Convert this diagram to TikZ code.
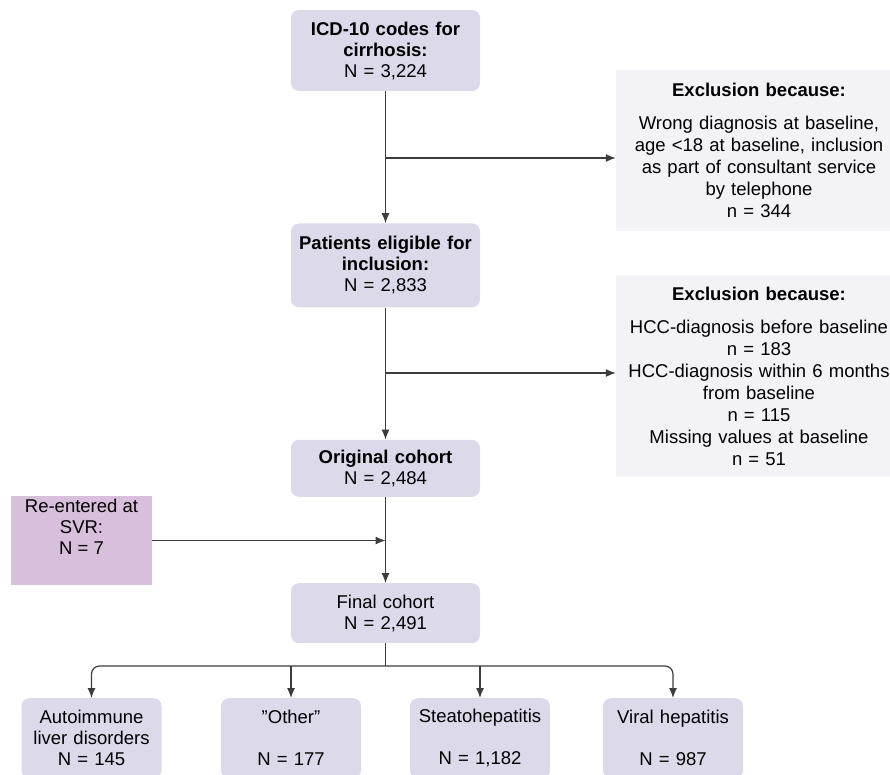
\documentclass[tikz,border=0pt]{standalone}
\usepackage{fontspec}
\setmainfont{Liberation Sans}
\usetikzlibrary{arrows.meta}
\usetikzlibrary{positioning}
\definecolor{boxlav}{RGB}{220,218,234}
\definecolor{boxgray}{RGB}{242,242,247}
\definecolor{boxmauve}{RGB}{216,191,219}
\definecolor{linegray}{RGB}{60,60,60}

\begin{document}
\begin{tikzpicture}[x=1pt,y=-1pt,font=\fontsize{18.5}{21}\selectfont,
  mainbox/.style={rectangle,rounded corners=8pt,fill=boxlav,align=center,text width=183pt,inner sep=3pt},
  exclbox/.style={rectangle,fill=boxgray,align=center,text width=280pt,inner sep=3pt,font=\fontsize{18.5}{22}\selectfont},
  groupbox/.style={rectangle,rounded corners=8pt,fill=boxlav,align=center,text width=134pt,inner sep=3pt,minimum height=80pt,anchor=north},
  flow/.style={draw=linegray,line width=1.2pt,-{Latex[length=10pt,width=8pt]}}]
\useasboundingbox (0,0) rectangle (890,774);

% main chain
\node [mainbox,minimum height=81pt] (icd) at (385.5,50.5) {\textbf{ICD-10 codes for}\\\textbf{cirrhosis:}\\N = 3,224};
\node [mainbox,minimum height=84pt,below=132pt,at=(icd.south)] (elig) {\textbf{Patients eligible for}\\\textbf{inclusion:}\\N = 2,833};
\node [mainbox,minimum height=57pt,below=132pt,at=(elig.south)] (orig) {\textbf{Original cohort}\\N = 2,484};
\node [mainbox,minimum height=60pt,below=86pt,at=(orig.south)] (final) {Final cohort\\N = 2,491};

% exclusions and re-entry
\node [exclbox,minimum height=161pt] (excl1) at (759,150.5) {\textbf{Exclusion because:}\\[11pt]Wrong diagnosis at baseline,\\age <18 at baseline, inclusion\\as part of consultant service\\by telephone\\n = 344};
\node [exclbox,minimum height=202pt] (excl2) at (759,376) {\textbf{Exclusion because:}\\[11pt]HCC-diagnosis before baseline\\n = 183\\HCC-diagnosis within 6 months\\from baseline\\n = 115\\Missing values at baseline\\n = 51};
\node [rectangle,fill=boxmauve,minimum width=141pt,minimum height=83pt,align=center] (svr) at (81.5,540.5) {Re-entered at\\SVR:\\N = 7\\ \strut};

% aetiology groups
\node [groupbox] (auto) at (91.5,698) {Autoimmune\\liver disorders\\N = 145};
\node [groupbox] (other) at (291,698) {”Other”\\ \strut\\N = 177};
\node [groupbox] (steato) at (480,698) {Steatohepatitis\\ \strut\\N = 1,182};
\node [groupbox] (viral) at (673,698) {Viral hepatitis\\ \strut\\N = 987};

\coordinate (split1) at (385.5,158);
\coordinate (split2) at (385.5,373);
\coordinate (split3) at (385.5,666);

\draw [flow] (icd) -- (elig);
\draw [flow] (split1) -- (split1 -| excl1.west);
\draw [flow] (elig) -- (orig);
\draw [flow] (split2) -- (split2 -| excl2.west);
\draw [flow] (orig) -- (final);
\draw [flow] (svr.east) -- (svr.east -| orig.south);
\draw [draw=linegray,line width=1.2pt] (final) -- (split3);
\draw [flow,rounded corners=8pt] (split3) -| (auto.north);
\draw [flow,rounded corners=8pt] (split3) -| (viral.north);
\draw [flow] (other.north |- split3) -- (other.north);
\draw [flow] (steato.north |- split3) -- (steato.north);
\end{tikzpicture}
\end{document}
